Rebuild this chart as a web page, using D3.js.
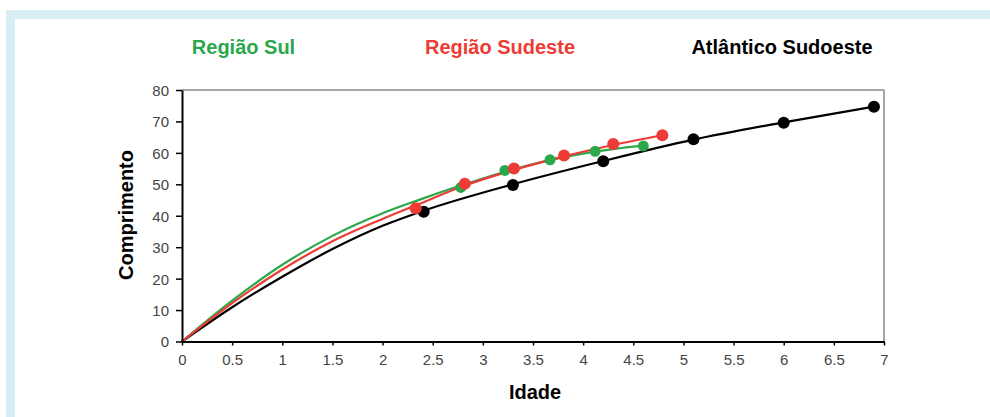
<!DOCTYPE html>
<html><head><meta charset="utf-8">
<script src="https://cdn.jsdelivr.net/npm/d3@7"></script>
<style>
html,body{margin:0;padding:0;background:#fff;}
svg{display:block;font-family:"Liberation Sans",Arial,sans-serif;}
</style></head>
<body>
<svg id="c" width="990" height="417"></svg>
<script>
// Data
const seriesNames = ["Região Sul", "Região Sudeste", "Atlântico Sudoeste"];
const seriesColors = ["#2aa84a", "#ee3b36", "#000000"];

// Growth curves (age, length)
const sulCurveAge = [0, 0.5, 1, 1.5, 2, 2.35, 2.78, 3.22, 3.67, 4.12, 4.6];
const sulCurveLen = [0, 13.0, 24.4, 33.6, 40.8, 44.9, 49.6, 54.0, 57.7, 60.4, 62.4];
const sudesteCurveAge = [0, 0.5, 1, 1.5, 2, 2.33, 2.82, 3.31, 3.81, 4.30, 4.79];
const sudesteCurveLen = [0, 12.2, 22.9, 31.9, 39.0, 43.3, 49.6, 54.6, 58.9, 62.5, 65.6];
const atlCurveAge = [0, 0.5, 1, 1.5, 2, 2.41, 3.30, 4.20, 5.10, 6.0, 6.9];
const atlCurveLen = [0, 10.9, 20.6, 29.4, 36.8, 41.6, 50.0, 57.4, 64.2, 69.7, 74.7];

// Observed mean lengths (dots)
const sulAge = [2.78, 3.22, 3.67, 4.12, 4.6];
const sulLen = [49.0, 54.4, 57.8, 60.5, 62.2];
const sudesteAge = [2.33, 2.82, 3.31, 3.81, 4.30, 4.79];
const sudesteLen = [42.4, 50.2, 55.0, 59.2, 62.8, 65.6];
const atlAge = [2.41, 3.30, 4.20, 5.10, 6.0, 6.9];
const atlLen = [41.3, 49.8, 57.3, 64.3, 69.6, 74.7];

const xTicks = [0, 0.5, 1, 1.5, 2, 2.5, 3, 3.5, 4, 4.5, 5, 5.5, 6, 6.5, 7];
const yTicks = [0, 10, 20, 30, 40, 50, 60, 70, 80];
const xTitle = "Idade";
const yTitle = "Comprimento";

const svg = d3.select("#c");
// frame
svg.append("rect").attr("x", 6).attr("y", 10).attr("width", 990).attr("height", 420).attr("fill", "#d9eef4");
svg.append("rect").attr("x", 15).attr("y", 19).attr("width", 990).attr("height", 420).attr("fill", "#ffffff");

const x = d3.scaleLinear().domain([0, 7]).range([182, 884]);
const y = d3.scaleLinear().domain([0, 80]).range([341.5, 90]);

// top and right border
svg.append("line").attr("x1", x(0)).attr("x2", x(7)).attr("y1", y(80)).attr("y2", y(80)).attr("stroke", "#8c8888").attr("stroke-width", 1.5);
svg.append("line").attr("x1", x(7)).attr("x2", x(7)).attr("y1", y(80)).attr("y2", y(0)).attr("stroke", "#8c8888").attr("stroke-width", 1.5);

const series = [
  {name: seriesNames[2], color: seriesColors[2], ca: atlCurveAge, cl: atlCurveLen, a: atlAge, l: atlLen, r: 6},
  {name: seriesNames[0], color: seriesColors[0], ca: sulCurveAge, cl: sulCurveLen, a: sulAge, l: sulLen, r: 5.5},
  {name: seriesNames[1], color: seriesColors[1], ca: sudesteCurveAge, cl: sudesteCurveLen, a: sudesteAge, l: sudesteLen, r: 6}
];

const line = d3.line().x(d => x(d[0])).y(d => y(d[1])).curve(d3.curveMonotoneX);

series.forEach(s => {
  const pts = s.ca.map((a, i) => [a, s.cl[i]]);
  svg.append("path").attr("d", line(pts)).attr("fill", "none").attr("stroke", s.color).attr("stroke-width", 2.2);
});
series.forEach(s => {
  svg.append("g").selectAll("circle").data(s.a.map((a, i) => [a, s.l[i]])).join("circle")
    .attr("cx", d => x(d[0])).attr("cy", d => y(d[1])).attr("r", s.r).attr("fill", s.color);
});

// axes
const gx = svg.append("g").attr("transform", `translate(0,${y(0)})`)
  .call(d3.axisBottom(x).tickValues(xTicks).tickFormat(d => d).tickSize(4).tickSizeOuter(0).tickPadding(9));
const gy = svg.append("g").attr("transform", `translate(${x(0)},0)`)
  .call(d3.axisLeft(y).tickValues(yTicks).tickSize(6).tickSizeOuter(0).tickPadding(7));
[gx, gy].forEach(g => {
  g.select(".domain").attr("stroke", "#000").attr("stroke-width", 2);
  g.selectAll(".tick line").attr("stroke", "#000").attr("stroke-width", 1.5);
  g.selectAll(".tick text").attr("fill", "#454545").style("font-size", "15px").style("font-family", "'Liberation Sans',Arial,sans-serif");
});
gy.selectAll(".tick text").attr("dy", "0.36em");

// axis titles
svg.append("text").attr("x", 535).attr("y", 399).attr("text-anchor", "middle")
  .style("font-size", "20px").style("font-weight", "bold").attr("fill", "#000").text(xTitle);
svg.append("text").attr("transform", "translate(133,215) rotate(-90)").attr("text-anchor", "middle")
  .style("font-size", "20px").style("font-weight", "bold").attr("fill", "#000").text(yTitle);

// series titles
const titleX = [243.5, 500, 782];
const titleIdx = [0, 1, 2];
titleIdx.forEach(i => {
  svg.append("text").attr("x", titleX[i]).attr("y", 54).attr("text-anchor", "middle")
    .style("font-size", "20px").style("font-weight", "bold").attr("fill", seriesColors[i]).text(seriesNames[i]);
});
</script>
</body></html>
